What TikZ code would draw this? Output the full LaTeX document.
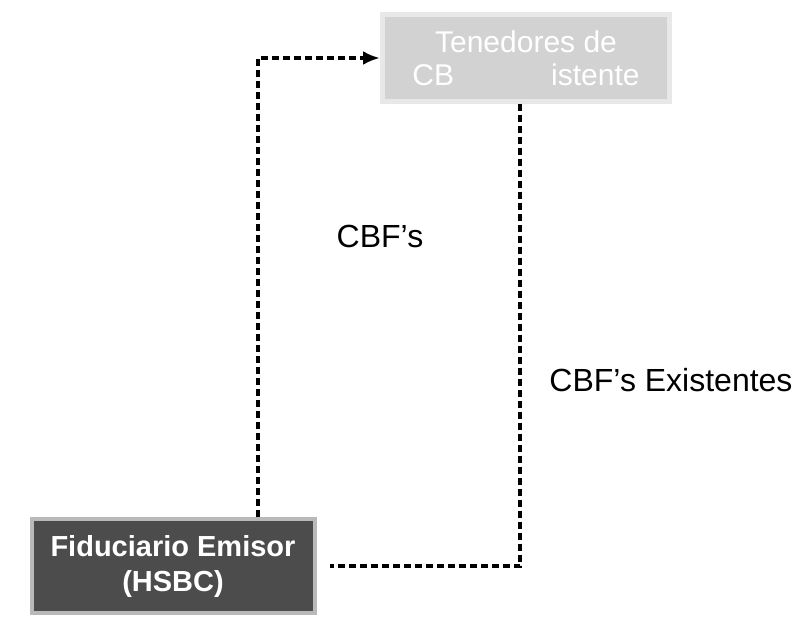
\documentclass[tikz,border=0pt]{standalone}
\usepackage{fontspec}
\setmainfont{Liberation Sans}
\usetikzlibrary{arrows.meta}
\tikzset{
  holder/.style={fill=gray!35, draw=gray!18, line width=5pt, text=white, align=center,
    minimum width=287pt, minimum height=86pt, font=\fontsize{30}{33}\selectfont},
  issuer/.style={fill=black!70, draw=gray!55, line width=4pt, text=white, align=center,
    minimum width=283pt, minimum height=94pt, font=\bfseries\fontsize{29}{35}\selectfont},
  flow/.style={line width=3.5pt, dash pattern=on 7pt off 4pt},
  lbl/.style={font=\fontsize{32}{38}\selectfont}
}
\begin{document}
\begin{tikzpicture}[x=1pt,y=-1pt]
    \useasboundingbox (0,0) rectangle (806,618);
    \node[holder] (ten) at (526,58) {Tenedores de\\CB\hspace{97pt}istente};
    \node[issuer] (fid) at (173,566) {Fiduciario Emisor\\(HSBC)};
    \draw [flow,-{Latex[length=17pt,width=14pt]}] ([xshift=85pt]fid.north) |- (ten.west);
    \draw [flow,shorten >=13pt] ([xshift=-6pt]ten.south) |- (fid.east);
    \node[lbl] (cbf) at (380,236) {CBF's};
    \node[lbl] (cbfe) at (671,380) {CBF's Existentes};
\end{tikzpicture}
\end{document}
